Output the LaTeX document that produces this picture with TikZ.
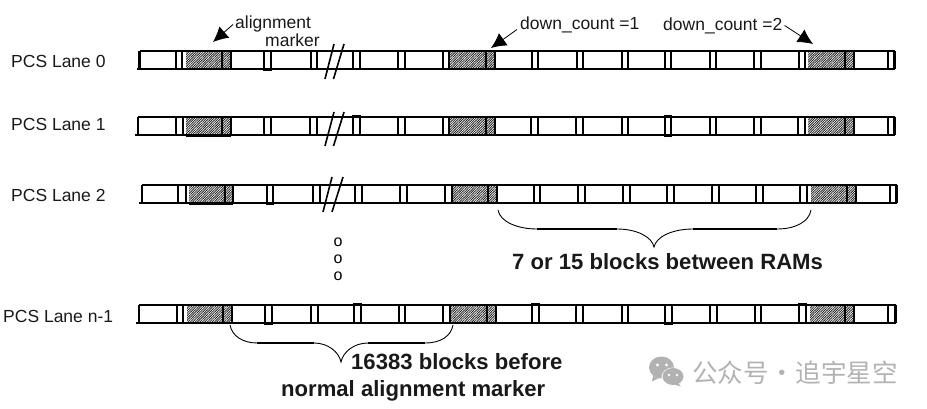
\documentclass[tikz,border=0pt]{standalone}
\usepackage{fontspec}
\setmainfont{Liberation Sans}
\newfontfamily\cjkwm{Noto Sans CJK SC}
\usetikzlibrary{arrows.meta,patterns.meta}
\tikzset{
  rail/.style={line width=2.2pt,black},
  tick/.style={line width=2pt,black,fill=white},
  hatched/.style={pattern={Lines[angle=45,distance=1.7pt,line width=0.85pt]},pattern color=black!85},
  divider/.style={line width=2pt,black},
  slashline/.style={line width=1.6pt,black},
  lanelabel/.style={font=\fontsize{17.5}{20}\selectfont,text=black!90,inner sep=0pt},
  calllabel/.style={font=\fontsize{17.5}{20}\selectfont,text=black!90,inner sep=0pt},
  boldlabel/.style={font=\fontsize{22.1}{26}\selectfont\bfseries,text=black!90,inner sep=0pt},
  pointer/.style={line width=0.8pt,-{Latex[length=15pt,width=15pt]}},
  bracecurve/.style={line width=0.9pt,black},
  braceflat/.style={line width=1.8pt,black},
  dotlabel/.style={font=\fontsize{16}{16}\selectfont,inner sep=0pt},
  watermark/.style={font=\cjkwm\fontsize{25.5}{28}\selectfont,text=black!30,inner sep=0pt}
}
% left, right, top, bottom, ticks, markers
\newcommand{\lanebar}[6]{%
  \foreach \ma/\mb/\mc in {#6}{
    \fill[white] (\ma,#3) rectangle (\mc,#4);
    \fill[hatched] (\ma,#3) rectangle (\mc,#4);
    \draw[divider] (\mb,#3) -- (\mb,#4);
    \draw[divider] (\mc-0.5,#3) -- (\mc-0.5,#4);
  }
  \draw[rail] (#1,#3) -- (#2,#3);
  \draw[rail] (#1-3,#4) -- (#2,#4);
  \draw[rail] (#1,#3) -- (#1,#4);
  \draw[rail] (#2-0.5,#3) -- (#2-0.5,#4);
  \foreach \ta/\tb in {#5}{
    \draw[tick] (\ta+0.8,#3) rectangle (\tb-0.8,#4);
  }
}
\begin{document}
\begin{tikzpicture}[x=1pt,y=-1pt]
\useasboundingbox (0,0) rectangle (927,409);

% lanes
\lanebar{139.5}{895}{51}{69}{175/183,263/272,310/318,352/361,397/406,442/450,531/539,576/584,621/629,664/672,709/717,753/762,798/806,887/895}{186/222/231,450/486/495,808/845/854}
\lanebar{138}{895}{117}{135}{175/184,263/272,309/318,352/361,397/406,442/450,530/539,575/584,621/629,664/672,709/717,753/762,797/806,887/895}{186/222/231,450/486/495,808/845/854}
\lanebar{142}{897}{185}{203}{177/187,266/274,312/321,354/363,399/408,444/453,533/541,577/586,622/631,666/675,711/720,755/764,799/808,889/897}{189/225/233,453/488/497,811/847/856}
\lanebar{139}{896}{305}{323}{176/184,264/273,310/319,353/362,398/406,442/451,531/540,575/584,621/629,664/673,709/718,754/762,798/807,887/896}{187/223/232,451/487/496,810/845/854}

% slight heavier edges of some blocks
\draw[rail] (263,70) -- (272,70);
\draw[rail] (352,116) -- (361,116);
\draw[rail] (186,135.5) -- (231,135.5);
\draw[rail] (664,136) -- (672,136);
\draw[rail] (664,116) -- (672,116);
\draw[rail] (189,204) -- (233,204);
\draw[rail] (266,204) -- (274,204);
\draw[rail] (264,324) -- (273,324);
\draw[rail] (353,304) -- (362,304);
\draw[rail] (531,304) -- (540,304);
\draw[rail] (664,324) -- (673,324);
\draw[rail] (798,304) -- (807,304);

% slashes
\draw[slashline] (325,79) -- (334,44);
\draw[slashline] (333.5,79) -- (344,44);
\draw[slashline] (325,146) -- (334,112);
\draw[slashline] (333.5,146) -- (344,112);
\draw[slashline] (323,212) -- (332,177);
\draw[slashline] (332,212) -- (343,177);

% lane labels
\node[lanelabel,anchor=west] (l0) at (11,61.5) {PCS Lane 0};
\node[lanelabel,anchor=west] (l1) at (11,124.5) {PCS Lane 1};
\node[lanelabel,anchor=west] (l2) at (11,195.5) {PCS Lane 2};
\node[lanelabel,anchor=west] (l3) at (3,316.5) {PCS Lane n-1};

% callouts
\node[calllabel,anchor=west] (al) at (235,23.5) {alignment};
\node[calllabel,anchor=west] (mk) at (265,40.5) {marker};
\node[calllabel,anchor=west] (d1) at (520,24.5) {down\_count =1};
\node[calllabel,anchor=west] (d2) at (663,25.5) {down\_count =2};
\coordinate (t0) at (213,42);
\coordinate (t1) at (491,48);
\coordinate (t2) at (813,44);
\draw[pointer] (al.west) ++(-2,1) coordinate (a0) -- (t0);
\draw[pointer] (d1.west) ++(-3,5) coordinate (a1) -- (t1);
\draw[pointer] (d2.east) ++(2,0) coordinate (a2) -- (t2);

% dots
\node[dotlabel] (o1) at (338,242) {o};
\node[dotlabel] (o2) at (338,259) {o};
\node[dotlabel] (o3) at (338,276) {o};

% brace RAMs
\draw[bracecurve] (498,210) .. controls (500,222) and (518,229) .. (537,229);
\draw[braceflat] (537,229) -- (617,229);
\draw[bracecurve] (617,229) .. controls (637,229) and (652,237) .. (654,247)
  .. controls (656,237) and (672,229) .. (693,229);
\draw[braceflat] (693,229) -- (777,229);
\draw[bracecurve] (777,229) .. controls (795,229) and (809,222) .. (811,210);
\node[boldlabel,anchor=west] (b1) at (512,262) {7 or 15 blocks between RAMs};

% brace 16383
\draw[bracecurve] (230,325) .. controls (232,336) and (243,343) .. (257,343);
\draw[braceflat] (257,343) -- (314,343);
\draw[bracecurve] (314,343) .. controls (328,343) and (339,352) .. (341,362)
  .. controls (343,352) and (354,343) .. (368,343);
\draw[braceflat] (368,343) -- (425,343);
\draw[bracecurve] (425,343) .. controls (441,343) and (451,336) .. (453,325);
\node[boldlabel,anchor=west] (b2) at (351,362) {16383 blocks before};
\node[boldlabel,anchor=west] (b3) at (281,391) {normal alignment marker};

% watermark
\fill[black!30] (661.5,367.5) ellipse (12.5pt and 11pt);
\fill[black!30] (653,376) -- (652,381.5) -- (659,378) -- cycle;
\fill[white] (673,377) ellipse (11.5pt and 9.5pt);
\fill[black!30] (673,376.5) ellipse (10.5pt and 8.5pt);
\fill[black!30] (678,383) -- (681,386.5) -- (674,384.5) -- cycle;
\fill[white] (657.5,365) circle (1.6pt) (666.5,365) circle (1.6pt) (669,375) circle (1.3pt) (677,375) circle (1.3pt);
\node[watermark,anchor=west] (wm) at (692,373) {公众号\makebox[27pt][c]{·}追宇星空};
\end{tikzpicture}
\end{document}
